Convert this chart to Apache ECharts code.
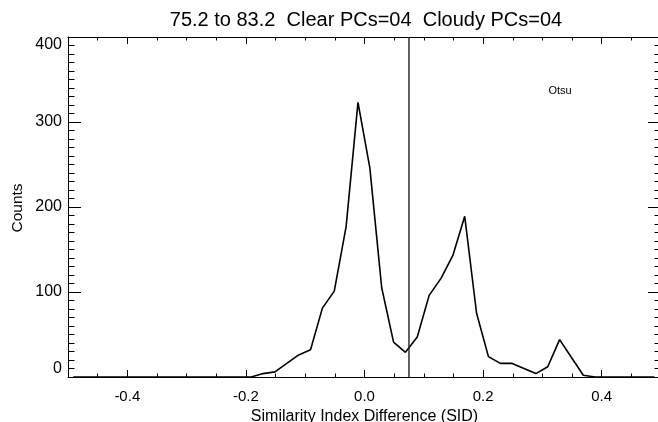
<!DOCTYPE html>
<html>
<head>
<meta charset="utf-8">
<script src="https://cdn.jsdelivr.net/npm/echarts@6/dist/echarts.min.js"></script>
<style>
  html, body { margin: 0; padding: 0; background: #fff; }
  #chart { width: 658px; height: 422px; }
</style>
</head>
<body>
<div id="chart"></div>
<script>
// histogram of SID, bin centres and counts
var sid = [
  -0.491, -0.471, -0.451, -0.431, -0.411, -0.391, -0.371, -0.351, -0.331, -0.311,
  -0.291, -0.271, -0.251, -0.231, -0.211, -0.191, -0.171, -0.151, -0.131, -0.111,
  -0.091, -0.071, -0.051, -0.031, -0.011, 0.009, 0.029, 0.049, 0.069, 0.089,
  0.109, 0.129, 0.149, 0.169, 0.189, 0.209, 0.229, 0.249, 0.269, 0.289,
  0.309, 0.329, 0.349, 0.369, 0.389, 0.409, 0.429, 0.449, 0.469, 0.489
]
var counts = [
  0, 0, 0, 0, 0, 0, 0, 0, 0, 0,
  0, 0, 0, 0, 0, 0, 4, 6, 16, 26,
  32, 81, 101, 177, 323, 246, 105, 41, 29, 47,
  96, 116, 143, 189, 75, 24, 16, 16, 10, 4,
  12, 44, 23, 2, 0, 0, 0, 0, 0, 0
]
var otsuThreshold = 0.075
var xTicks = [-0.4, -0.2, 0.0, 0.2, 0.4]
var yTicks = [0, 100, 200, 300, 400]
var titleText = '75.2 to 83.2  Clear PCs=04  Cloudy PCs=04'

var font = 'Liberation Sans, Helvetica, Arial, sans-serif'
var black = '#000'

var chart = echarts.init(document.getElementById('chart'))

function majorX (pos) {
  return {
    type: 'value', position: pos, min: -0.5, max: 0.5,
    axisLine: { show: true, onZero: false, lineStyle: { color: black, width: 1 } },
    axisTick: { show: true, inside: true, length: 7, customValues: xTicks, lineStyle: { color: black } },
    axisLabel: {
      show: pos === 'bottom', customValues: xTicks, margin: 12,
      color: black, fontFamily: font, fontSize: 15,
      formatter: function (v) { return v.toFixed(1) }
    },
    splitLine: { show: false }
  }
}
function minorX (pos) {
  return {
    type: 'value', position: pos, min: -0.5, max: 0.5, interval: 0.05,
    axisLine: { show: false, onZero: false },
    axisTick: { show: true, inside: true, length: 3.5, lineStyle: { color: black } },
    axisLabel: { show: false },
    splitLine: { show: false }
  }
}
function yAx (pos) {
  return {
    type: 'value', position: pos, min: yTicks[0], max: yTicks[yTicks.length - 1], interval: 100,
    axisLine: { show: true, onZero: false, lineStyle: { color: black, width: 1 } },
    axisTick: { show: true, inside: true, length: 13, lineStyle: { color: black } },
    minorTick: { show: true, splitNumber: 10, length: 6.5, lineStyle: { color: black } },
    axisLabel: {
      show: pos === 'left', margin: 6, color: black, fontFamily: font, fontSize: 16,
      verticalAlignMinLabel: 'bottom', verticalAlignMaxLabel: 'top'
    },
    splitLine: { show: false }
  }
}

var bottomX = majorX('bottom')
bottomX.name = 'Similarity Index Difference (SID)'
bottomX.nameLocation = 'middle'
bottomX.nameGap = 25
bottomX.nameTextStyle = { color: black, fontFamily: font, fontSize: 16 }

var option = {
  animation: false,
  backgroundColor: '#fff',
  // plot box runs a few px past the right edge, like the original
  grid: { left: 68, top: 37, width: 593, height: 340, outerBoundsMode: 'none' },
  xAxis: [bottomX, minorX('bottom'), majorX('top'), minorX('top')],
  yAxis: [yAx('left'), yAx('right')],
  graphic: [
    {
      type: 'text', x: 366, y: 20,
      style: { text: titleText, fill: black, font: '20px ' + font, textAlign: 'center', textVerticalAlign: 'middle' }
    },
    {
      type: 'text', x: 18, y: 208, rotation: Math.PI / 2,
      style: { text: 'Counts', fill: black, font: '15.5px ' + font, textAlign: 'center', textVerticalAlign: 'middle' }
    },
    {
      type: 'text', x: 560, y: 91,
      style: { text: 'Otsu', fill: black, font: '11px ' + font, textAlign: 'center', textVerticalAlign: 'middle' }
    }
  ],
  series: [
    {
      type: 'line',
      data: sid.map(function (x, i) { return [x, counts[i]] }),
      showSymbol: false,
      lineStyle: { color: black, width: 1.6 }
    },
    {
      // Otsu threshold
      type: 'line',
      data: [[otsuThreshold, 0], [otsuThreshold, 400]],
      showSymbol: false,
      lineStyle: { color: '#222', width: 1.4 }
    }
  ]
}
chart.setOption(option)
</script>
</body>
</html>
